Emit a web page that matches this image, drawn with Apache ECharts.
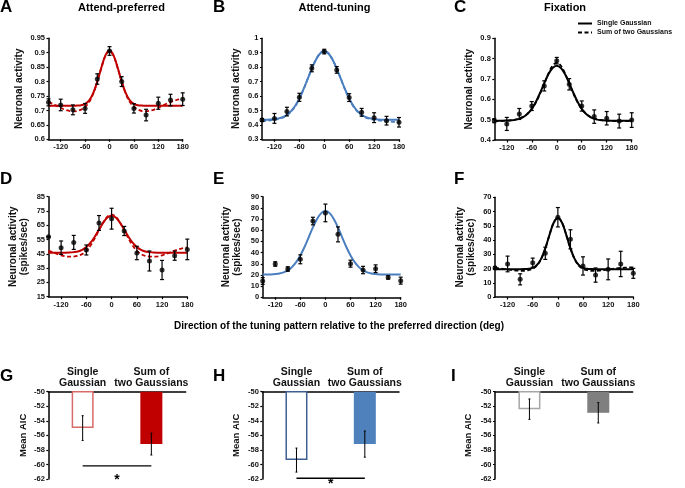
<!DOCTYPE html>
<html><head><meta charset="utf-8">
<script src="https://cdn.jsdelivr.net/npm/echarts@6/dist/echarts.min.js"></script>
<style>html,body{margin:0;padding:0;background:#fff}#c{width:685px;height:488px}</style>
</head><body><div id="c"></div>
<script>
// ---------- data ----------
const angles = [-150,-120,-90,-60,-30,0,30,60,90,120,150,180];
const fitAngles = [-150,-140,-130,-120,-110,-100,-90,-80,-70,-60,-50,-40,-30,-20,-10,0,10,20,30,40,50,60,70,80,90,100,110,120,130,140,150,160,170,180];
const xTickLabels = [-120,-60,0,60,120,180];

const aMean = [0.728,0.719,0.702,0.707,0.809,0.906,0.800,0.707,0.684,0.725,0.736,0.739];
const aErr  = [0.012,0.020,0.017,0.017,0.018,0.015,0.017,0.016,0.020,0.021,0.020,0.022];
const aSingle = [0.716,0.716,0.716,0.716,0.716,0.716,0.716,0.717,0.718,0.723,0.735,0.760,0.800,0.849,0.891,0.908,0.891,0.849,0.800,0.760,0.735,0.723,0.718,0.717,0.716,0.716,0.716,0.716,0.716,0.716,0.716,0.716,0.716,0.716];
const aDouble = [0.729,0.723,0.716,0.709,0.703,0.699,0.697,0.698,0.703,0.712,0.729,0.758,0.800,0.847,0.889,0.906,0.889,0.847,0.800,0.758,0.729,0.712,0.703,0.698,0.697,0.699,0.703,0.709,0.716,0.723,0.729,0.734,0.738,0.740];

const bMean = [0.434,0.445,0.492,0.591,0.792,0.908,0.781,0.589,0.487,0.450,0.429,0.418];
const bErr  = [0.010,0.034,0.030,0.028,0.024,0.016,0.023,0.027,0.027,0.034,0.030,0.033];
const bSingle = [0.435,0.436,0.437,0.440,0.445,0.454,0.470,0.495,0.532,0.583,0.647,0.718,0.790,0.852,0.895,0.910,0.895,0.852,0.790,0.718,0.647,0.583,0.532,0.495,0.470,0.454,0.445,0.440,0.437,0.436,0.435,0.435,0.435,0.435];
const bDouble = [0.425,0.428,0.431,0.435,0.441,0.450,0.466,0.491,0.528,0.580,0.645,0.718,0.791,0.854,0.897,0.912,0.897,0.854,0.791,0.718,0.645,0.580,0.528,0.491,0.466,0.450,0.441,0.435,0.431,0.428,0.425,0.422,0.420,0.418];

const cMean = [0.495,0.479,0.528,0.567,0.666,0.790,0.674,0.567,0.515,0.507,0.493,0.498];
const cErr  = [0.010,0.032,0.027,0.022,0.025,0.016,0.028,0.025,0.033,0.033,0.034,0.036];
const cSingle = [0.495,0.495,0.495,0.496,0.497,0.499,0.504,0.513,0.529,0.553,0.588,0.632,0.679,0.723,0.754,0.765,0.754,0.723,0.679,0.632,0.588,0.553,0.529,0.513,0.504,0.499,0.497,0.496,0.495,0.495,0.495,0.495,0.495,0.495];
const cDouble = [0.493,0.493,0.494,0.495,0.497,0.500,0.506,0.515,0.530,0.552,0.585,0.628,0.677,0.727,0.765,0.780,0.765,0.727,0.677,0.628,0.585,0.552,0.530,0.515,0.506,0.500,0.497,0.495,0.494,0.493,0.493,0.493,0.493,0.493];

const dMean = [57.0,49.3,53.0,47.7,66.6,69.6,61.0,45.6,40.0,33.7,43.7,48.1];
const dErr  = [0,4.7,4.9,3.5,5.2,7.3,3.2,4.7,7.0,6.7,3.2,7.2];
const dSingle = [45.8,45.8,45.8,45.8,45.8,45.9,46.2,46.7,47.8,49.7,52.8,57.0,61.9,66.8,70.4,71.7,70.4,66.8,61.9,57.0,52.8,49.7,47.8,46.7,46.2,45.9,45.8,45.8,45.8,45.8,45.8,45.8,45.8,45.8];
const dDouble = [47.2,46.1,45.0,44.0,43.3,43.0,43.1,43.6,44.8,47.0,50.8,55.8,61.5,67.0,71.0,72.5,71.0,67.0,61.5,55.8,50.8,47.0,44.8,43.6,43.1,43.0,43.3,44.0,45.0,46.1,47.2,48.2,49.0,49.4];

const eMean = [14.6,29.8,25.3,34.0,68.2,75.5,56.3,30.1,24.4,25.6,17.8,14.9];
const eErr  = [3.0,2.0,2.0,4.0,3.4,7.9,6.7,3.1,3.3,3.4,1.5,3.1];
const eSingle = [20.3,20.4,20.5,20.8,21.3,22.3,24.1,27.0,31.4,37.4,45.0,53.7,62.5,70.1,75.3,77.2,75.3,70.1,62.5,53.7,45.0,37.4,31.4,27.0,24.1,22.3,21.3,20.8,20.5,20.4,20.3,20.3,20.3,20.3];

const fMean = [20.4,23.2,12.4,24.1,30.7,56.0,40.5,21.8,15.4,19.4,23.2,16.6];
const fErr  = [1.0,5.5,3.9,3.2,4.3,6.8,6.7,6.4,5.0,7.3,8.9,3.5];
const fSingle = [19.5,19.5,19.5,19.5,19.5,19.5,19.5,19.6,19.8,20.5,22.5,26.8,34.1,43.6,52.1,55.5,52.1,43.6,34.1,26.8,22.5,20.5,19.8,19.6,19.5,19.5,19.5,19.5,19.5,19.5,19.5,19.5,19.5,19.5];
const fDouble = [20.4,20.1,19.7,19.3,18.9,18.6,18.4,18.4,18.8,19.8,22.0,26.5,34.0,43.6,52.2,55.7,52.2,43.6,34.0,26.5,22.0,19.8,18.8,18.4,18.4,18.6,18.9,19.3,19.7,20.1,20.4,20.6,20.7,20.8];

const barCats = ['Single\nGaussian', 'Sum of\ntwo Gaussians'];
const gMean = [-55.0, -57.2], gErr = [1.7, 1.5];
const hMean = [-59.4, -57.2], hErr = [1.65, 1.8];
const iMean = [-52.4, -52.9], iErr = [1.4, 1.4];
const gSig = [-60.2, -62.1];   // significance bar level, star level
const hSig = [-61.9, -62.7];

// ---------- build ----------
const FF = '"Liberation Sans", Arial, Helvetica, sans-serif';
const zip = (xs, ys) => xs.map((x, i) => [x, ys[i]]);

function errRender(capHalf, lw) {
  return function (params, api) {
    const x = api.value(0), lo = api.value(1), hi = api.value(2);
    const a = api.coord([x, lo]), b = api.coord([x, hi]);
    const st = { stroke: '#000', lineWidth: lw };
    return { type: 'group', children: [
      { type: 'line', shape: { x1: a[0], y1: a[1], x2: b[0], y2: b[1] }, style: st },
      { type: 'line', shape: { x1: a[0] - capHalf, y1: a[1], x2: a[0] + capHalf, y2: a[1] }, style: st },
      { type: 'line', shape: { x1: b[0] - capHalf, y1: b[1], x2: b[0] + capHalf, y2: b[1] }, style: st }
    ]};
  };
}

const linePanels = [
  { grid: { left: 48.5, top: 38.3, width: 134.2, height: 101 }, min: 0.6, max: 0.95, interval: 0.05, mean: aMean, err: aErr, single: aSingle, dbl: aDouble, color: '#c00000', yName: 'Neuronal activity', nameGap: 23.5, key: 'A' },
  { grid: { left: 262, top: 38.3, width: 137, height: 101 }, min: 0.3, max: 1, interval: 0.1, mean: bMean, err: bErr, single: bSingle, dbl: bDouble, color: '#4a7ebf', yName: 'Neuronal activity', nameGap: 20, key: 'B' },
  { grid: { left: 494.3, top: 38.3, width: 137.4, height: 101.7 }, min: 0.4, max: 0.9, interval: 0.1, mean: cMean, err: cErr, single: cSingle, dbl: cDouble, color: '#000', yName: 'Neuronal activity', nameGap: 19.3, key: 'C' },
  { grid: { left: 48.5, top: 196.7, width: 138.8, height: 100 }, min: 15, max: 85, interval: 10, mean: dMean, err: dErr, single: dSingle, dbl: dDouble, color: '#c00000', yName: 'Neuronal activity\n(spikes/sec)', nameGap: 18.5, key: 'D' },
  { grid: { left: 262.7, top: 196.7, width: 138, height: 100.6 }, min: 0, max: 90, interval: 10, mean: eMean, err: eErr, single: eSingle, dbl: null, color: '#4a7ebf', yName: 'Neuronal activity\n(spikes/sec)', nameGap: 20, key: 'E' },
  { grid: { left: 495, top: 197.3, width: 138.3, height: 99.7 }, min: 0, max: 70, interval: 10, mean: fMean, err: fErr, single: fSingle, dbl: fDouble, color: '#000', yName: 'Neuronal activity\n(spikes/sec)', nameGap: 18.6, key: 'F' }
];

const barPanels = [
  { grid: { left: 48.3, top: 391.7, width: 137.4, height: 87.3 }, mean: gMean, err: gErr, colors: ['#d86a6a', '#c00000'], sig: gSig, nameGap: 20 },
  { grid: { left: 262.3, top: 391.7, width: 136.7, height: 87.3 }, mean: hMean, err: hErr, colors: ['#3f5f93', '#4f81bd'], sig: hSig, nameGap: 20.6 },
  { grid: { left: 495, top: 391.7, width: 137.7, height: 87.3 }, mean: iMean, err: iErr, colors: ['#a6a6a6', '#7f7f7f'], sig: null, nameGap: 21.7 }
];

const grids = [], xAxes = [], yAxes = [], series = [];
const axisLineStyle = { color: '#000', width: 1.5 };

linePanels.forEach((p, i) => {
  grids.push(Object.assign({ outerBoundsMode: 'none', containLabel: false }, p.grid));
  xAxes.push({
    gridIndex: i, type: 'value', min: -150, max: 180,
    axisLine: { show: true, onZero: false, lineStyle: axisLineStyle },
    axisTick: { show: true, length: 2.5, customValues: xTickLabels, lineStyle: { color: '#000', width: 1.2 } },
    axisLabel: { customValues: xTickLabels, margin: 4, fontSize: 7.5, fontWeight: 'bold', fontFamily: FF, color: '#111' },
    splitLine: { show: false }
  });
  yAxes.push({
    gridIndex: i, type: 'value', min: p.min, max: p.max, interval: p.interval,
    name: p.yName, nameLocation: 'middle', nameGap: p.nameGap, nameMoveOverlap: false,
    nameTextStyle: { fontSize: 10, fontWeight: 'bold', fontFamily: FF, color: '#111', lineHeight: 11 },
    axisLine: { show: true, onZero: false, lineStyle: axisLineStyle },
    axisTick: { show: true, length: 2, lineStyle: { color: '#000', width: 1.2 } },
    axisLabel: { margin: 3.5, fontSize: 7.5, fontWeight: 'bold', fontFamily: FF, color: '#111' },
    splitLine: { show: false }
  });
  const isLegendPanel = p.key === 'C';
  series.push({
    type: 'line', name: isLegendPanel ? 'Single Gaussian' : 'Single ' + p.key,
    xAxisIndex: i, yAxisIndex: i, data: zip(fitAngles, p.single),
    smooth: 0.35, symbol: 'none', showSymbol: false,
    lineStyle: { color: p.color, width: 2 }, itemStyle: { color: p.color }, z: 2
  });
  if (p.dbl) {
    series.push({
      type: 'line', name: isLegendPanel ? 'Sum of two Gaussians' : 'Sum ' + p.key,
      xAxisIndex: i, yAxisIndex: i, data: zip(fitAngles, p.dbl),
      smooth: 0.35, symbol: 'none', showSymbol: false,
      lineStyle: { color: p.color, width: 1.8, type: [4, 2.5] }, itemStyle: { color: p.color }, z: 2
    });
  }
  series.push({
    type: 'custom', xAxisIndex: i, yAxisIndex: i, z: 3,
    data: angles.map((a, k) => [a, p.mean[k] - p.err[k], p.mean[k] + p.err[k]]),
    encode: { x: 0, y: [1, 2] },
    renderItem: errRender(2, 1.2)
  });
  series.push({
    type: 'scatter', xAxisIndex: i, yAxisIndex: i, z: 4,
    data: zip(angles, p.mean), symbol: 'circle', symbolSize: 5,
    itemStyle: { color: '#000' }
  });
});

barPanels.forEach((p, j) => {
  const i = linePanels.length + j;
  grids.push(Object.assign({ outerBoundsMode: 'none', containLabel: false }, p.grid));
  xAxes.push({
    gridIndex: i, type: 'category', data: barCats, position: 'top',
    axisLine: { show: true, onZero: false, lineStyle: axisLineStyle },
    axisTick: { show: false },
    axisLabel: { interval: 0, margin: 3, fontSize: 10.5, lineHeight: 11, fontWeight: 'bold', fontFamily: FF, color: '#111' },
    splitLine: { show: false }
  });
  yAxes.push({
    gridIndex: i, type: 'value', min: -62, max: -50, interval: 2,
    name: 'Mean AIC', nameLocation: 'middle', nameGap: p.nameGap, nameMoveOverlap: false,
    nameTextStyle: { fontSize: 9.5, fontWeight: 'bold', fontFamily: FF, color: '#111' },
    axisLine: { show: true, onZero: false, lineStyle: axisLineStyle },
    axisTick: { show: true, length: 2, lineStyle: { color: '#000', width: 1.2 } },
    axisLabel: { margin: 3.5, fontSize: 7.5, fontWeight: 'bold', fontFamily: FF, color: '#111' },
    splitLine: { show: false }
  });
  series.push({
    type: 'bar', name: 'AIC ' + j, xAxisIndex: i, yAxisIndex: i, barWidth: 22, z: 1,
    data: [
      { value: p.mean[0], itemStyle: { color: '#fff', borderColor: p.colors[0], borderWidth: 1.5 } },
      { value: p.mean[1], itemStyle: { color: p.colors[1] } }
    ]
  });
  series.push({
    type: 'custom', xAxisIndex: i, yAxisIndex: i, z: 3,
    data: p.mean.map((m, k) => [k, m - p.err[k], m + p.err[k]]),
    encode: { x: 0, y: [1, 2] },
    renderItem: errRender(1, 1)
  });
  if (p.sig) {
    series.push({
      type: 'custom', xAxisIndex: i, yAxisIndex: i, z: 3, clip: false,
      data: [[0, 1, p.sig[0], p.sig[1]]],
      encode: { x: [0, 1], y: [2, 3] },
      renderItem: function (params, api) {
        const a = api.coord([api.value(0), api.value(2)]);
        const b = api.coord([api.value(1), api.value(2)]);
        const s = api.coord([api.value(0), api.value(3)]);
        return { type: 'group', children: [
          { type: 'line', shape: { x1: a[0], y1: a[1], x2: b[0], y2: b[1] }, style: { stroke: '#000', lineWidth: 1.3 } },
          { type: 'text', x: (a[0] + b[0]) / 2, y: s[1], style: { text: '*', fill: '#000', font: 'bold 14px ' + FF, align: 'center', verticalAlign: 'middle', textAlign: 'center', textVerticalAlign: 'middle' } }
        ]};
      }
    });
  }
});

function txt(x, y, text, size, align) {
  return { type: 'text', x: x, y: y, silent: true,
    style: { text: text, fill: '#000', font: 'bold ' + size + 'px ' + FF,
      align: align || 'center', verticalAlign: 'middle', textAlign: align || 'center', textVerticalAlign: 'middle' } };
}

const option = {
  animation: false,
  backgroundColor: '#fff',
  grid: grids, xAxis: xAxes, yAxis: yAxes, series: series,
  legend: {
    data: ['Single Gaussian', 'Sum of two Gaussians'],
    orient: 'vertical', left: 577, top: 20, itemWidth: 14, itemHeight: 8, itemGap: 2,
    padding: 0, selectedMode: false,
    itemStyle: { opacity: 0, color: 'rgba(0,0,0,0)', borderWidth: 0 },
    textStyle: { fontSize: 7, fontWeight: 'bold', fontFamily: FF, color: '#111', padding: [0, 0, 0, 0] }
  },
  graphic: [
    txt(121.5, 7.5, 'Attend-preferred', 11),
    txt(334.5, 7.5, 'Attend-tuning', 11),
    txt(565, 7.5, 'Fixation', 11),
    txt(0, 7.5, 'A', 17, 'left'),
    txt(213, 7.5, 'B', 17, 'left'),
    txt(454, 7.5, 'C', 17, 'left'),
    txt(0, 179, 'D', 17, 'left'),
    txt(213, 179, 'E', 17, 'left'),
    txt(454, 179, 'F', 17, 'left'),
    txt(0, 376, 'G', 17, 'left'),
    txt(213, 376, 'H', 17, 'left'),
    txt(451, 376, 'I', 17, 'left'),
    txt(339, 326, 'Direction of the tuning pattern relative to the preferred direction (deg)', 10)
  ]
};

const chart = echarts.init(document.getElementById('c'), null, { renderer: 'canvas' });
chart.setOption(option);
</script>
</body></html>
